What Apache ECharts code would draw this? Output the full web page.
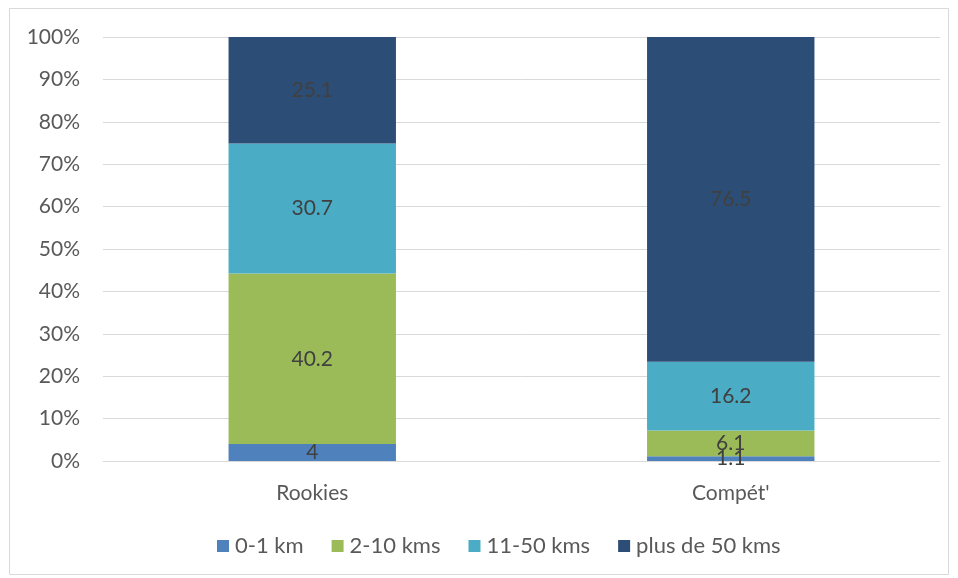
<!DOCTYPE html>
<html><head><meta charset="utf-8">
<script src="https://cdn.jsdelivr.net/npm/echarts@6/dist/echarts.min.js"></script>
<style>html,body{margin:0;padding:0;background:#fff}#c{width:958px;height:578px}</style>
</head><body><div id="c"></div>
<script>
const categories = ["Rookies", "Compét'"];
const seriesNames = ["0-1 km", "2-10 kms", "11-50 kms", "plus de 50 kms"];
const v01 = [4, 1.1];
const v210 = [40.2, 6.1];
const v1150 = [30.7, 16.2];
const v50 = [25.1, 76.5];
const colors = ["#4F81BD", "#9BBB59", "#4BACC6", "#2C4D75"];
const yTicks = [0,10,20,30,40,50,60,70,80,90,100];

const all = [v01, v210, v1150, v50];
const totals = categories.map((_, i) => all.reduce((s, a) => s + a[i], 0));
const FONT = "Lato";
const chart = echarts.init(document.getElementById('c'));
chart.setOption({
  animation: false,
  textStyle: {fontFamily: FONT},
  graphic: [{type:'rect', shape:{x:9.5,y:8.5,width:939,height:566}, style:{fill:'none', stroke:'#D9D9D9', lineWidth:1}, silent:true}],
  grid: {left: 103, right: 18, top: 37, bottom: 117},
  legend: {
    bottom: 16, left: 212, itemWidth: 12, itemHeight: 12, itemGap: 28,
    icon: 'rect',
    textStyle: {fontSize: 22, color: '#595959', fontFamily: FONT, padding: [0,0,0,1]},
    data: seriesNames
  },
  xAxis: {
    type: 'category', data: categories,
    axisLine: {lineStyle: {color: '#D9D9D9'}},
    axisTick: {show: false},
    axisLabel: {fontSize: 21, color: '#595959', margin: 22, fontFamily: FONT}
  },
  yAxis: {
    type: 'value', min: 0, max: 100, interval: 10,
    axisLine: {show: false}, axisTick: {show: false},
    splitLine: {lineStyle: {color: '#D9D9D9', width: 1}},
    axisLabel: {fontSize: 21, color: '#595959', margin: 23, fontFamily: FONT,
      formatter: v => yTicks.includes(v) ? v + '%' : ''}
  },
  series: all.map((arr, k) => ({
    name: seriesNames[k], type: 'bar', stack: 'total', barWidth: '40%',
    itemStyle: {color: colors[k]},
    label: {show: true, position: 'inside', fontSize: 21, color: '#404040', fontFamily: FONT,
      formatter: p => String(arr[p.dataIndex])},
    data: arr.map((v, i) => v / totals[i] * 100)
  }))
});
</script></body></html>
